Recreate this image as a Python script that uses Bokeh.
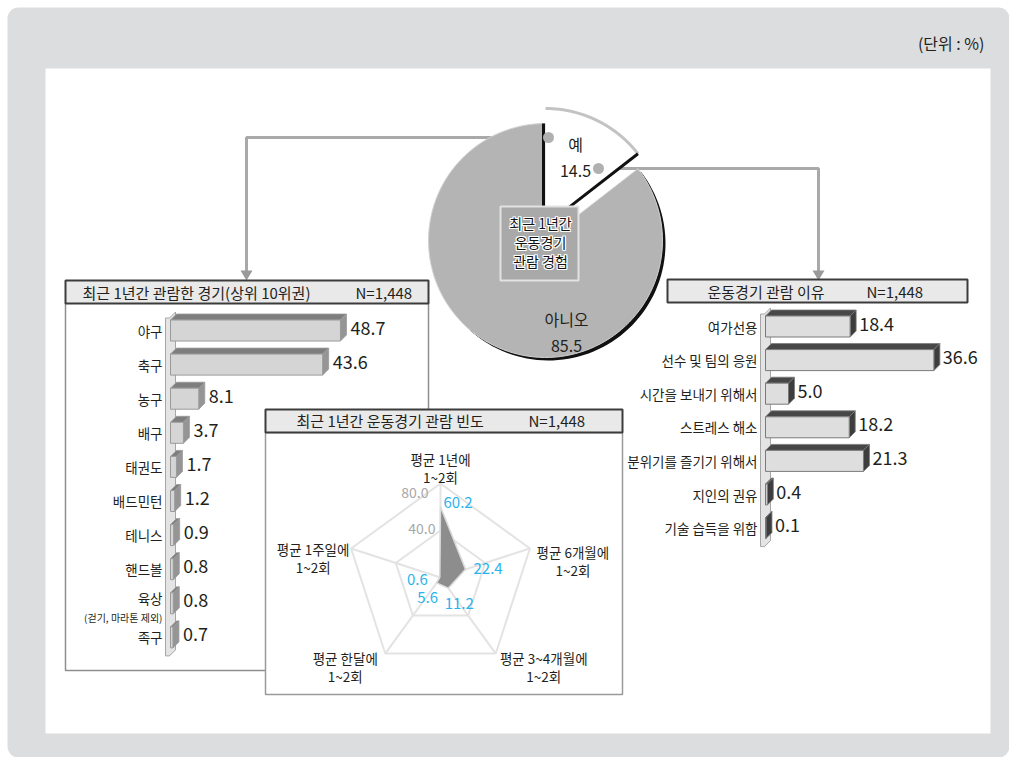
import math
from bokeh.plotting import figure
from bokeh.models import Range1d
from bokeh.core.properties import value
from bokeh.embed import file_html
from bokeh.resources import INLINE

# ---------------- data ----------------
unit_label = "(단위 : %)"
sample_n = "N=1,448"

pie_center_text = ["최근 1년간", "운동경기", "관람 경험"]
pie_labels = ["예", "아니오"]
pie_values = [14.5, 85.5]

sports_title = "최근 1년간 관람한 경기(상위 10위권)"
sports = ["야구", "축구", "농구", "배구", "태권도", "배드민턴", "테니스", "핸드볼", "육상", "족구"]
sports_values = [48.7, 43.6, 8.1, 3.7, 1.7, 1.2, 0.9, 0.8, 0.8, 0.7]
sports_note = "(걷기, 마라톤 제외)"   # note under 육상

reasons_title = "운동경기 관람 이유"
reasons = ["여가선용", "선수 및 팀의 응원", "시간을 보내기 위해서", "스트레스 해소",
           "분위기를 즐기기 위해서", "지인의 권유", "기술 습득을 위함"]
reason_values = [18.4, 36.6, 5.0, 18.2, 21.3, 0.4, 0.1]

freq_title = "최근 1년간 운동경기 관람 빈도"
freq_line1 = ["평균 1년에", "평균 6개월에", "평균 3~4개월에", "평균 한달에", "평균 1주일에"]
freq_line2 = ["1~2회", "1~2회", "1~2회", "1~2회", "1~2회"]
freq_values = [60.2, 22.4, 11.2, 5.6, 0.6]
radar_levels = [40.0, 80.0]

# ---------------- styling / layout ----------------
FONT = value("Noto Sans CJK KR")
TXT = "#231f20"
W, H = 1009, 757

p = figure(width=W, height=H, x_range=Range1d(0, W), y_range=Range1d(H, 0),
           output_backend="svg", toolbar_location=None, min_border=0,
           x_axis_type=None, y_axis_type=None)
p.grid.visible = False
p.outline_line_color = None
p.background_fill_color = "white"
p.border_fill_color = "white"

LAB = "13.5px"
TITLE = "15px"
VAL = "18px"


def text(x, y, t, size=LAB, align="left", baseline="middle", color=TXT, style="normal"):
    p.text(x=x, y=y, text=t, text_font=FONT, text_font_size=size, text_align=align,
           text_baseline=baseline, text_color=color, text_font_style=style)


# outer rounded gray frame
def rounded_rect(l, t, r, b, rad, n=8):
    xs, ys = [], []
    corners = [(r - rad, t + rad, -90, 0), (r - rad, b - rad, 0, 90),
               (l + rad, b - rad, 90, 180), (l + rad, t + rad, 180, 270)]
    for cx, cy, a0, a1 in corners:
        for j in range(n + 1):
            a = math.radians(a0 + (a1 - a0) * j / n)
            xs.append(cx + rad * math.cos(a))
            ys.append(cy + rad * math.sin(a))
    return xs, ys


fx, fy = rounded_rect(7, 7, 1009, 757, 11)
p.patch(fx, fy, fill_color="#dcdddf", line_color=None)
p.quad(left=45, right=990, top=68, bottom=733, fill_color="white", line_color=None)
text([984], [42], [unit_label], size="16px", align="right")

# ---------------- connectors ----------------
CON = "#a9a9a9"
p.line([548, 246, 246], [137, 137, 272], line_color=CON, line_width=3)
p.line([598, 818, 818], [168, 168, 272], line_color=CON, line_width=3)
p.patches([[240, 252, 246], [812, 824, 818]], [[270, 270, 280], [270, 270, 280]],
          fill_color="#9a9a9a", line_color=None)

# ---------------- pie ----------------
PCX, PCY, PR, EXPLODE = 545, 240, 117, 15
total = sum(pie_values)
fr = [v / total for v in pie_values]
cum = [0.0, fr[0], 1.0]


def arc_pts(cx, cy, r, f0, f1, n=120):
    xs, ys = [], []
    for j in range(n + 1):
        t = 2 * math.pi * (f0 + (f1 - f0) * j / n)
        xs.append(cx + r * math.sin(t))
        ys.append(cy - r * math.cos(t))
    return xs, ys


# "아니오" slice (main) with dark shadow
ax, ay = arc_pts(PCX, PCY, PR, cum[1], cum[2])
p.patch([PCX + 3] + [x + 3 for x in ax] + [PCX + 3], [PCY + 3] + [y + 3 for y in ay] + [PCY + 3],
        fill_color="#111111", line_color=None)
p.patch([PCX] + ax + [PCX], [PCY] + ay + [PCY], fill_color="#b4b4b4", line_color="#d2d2d2",
        line_width=1)
# "예" slice (exploded, white)
ex_cy = PCY - EXPLODE
bx, by = arc_pts(PCX, ex_cy, PR, cum[0], cum[1])
p.patch([PCX] + bx + [PCX], [ex_cy] + by + [ex_cy], fill_color="white", line_color=None)
p.line(bx, by, line_color="#c3c3c3", line_width=3)
# dark edges
p.line([PCX - 2, PCX - 2], [PCY - 3, PCY - PR], line_color="#111111", line_width=3)
t1 = 2 * math.pi * cum[1]
p.line([PCX + 0.25 * PR * math.sin(t1), PCX + PR * math.sin(t1)],
       [ex_cy - 0.25 * PR * math.cos(t1), ex_cy - PR * math.cos(t1)],
       line_color="#111111", line_width=3)
# connector dots
p.scatter([548, 598], [137, 168], size=11, fill_color="#b0b0b0", line_color=None)

# center box
p.quad(left=500, right=578, top=206, bottom=280, fill_color="#a9a9a9", line_color="#e2e2e2",
       line_width=2)
cy_lines = [222, 241, 260]
for dx, dy in [(-1, 0), (1, 0), (0, -1), (0, 1), (-1, -1), (1, 1), (-1, 1), (1, -1)]:
    text([540 + dx] * 3, [y + dy for y in cy_lines], pie_center_text, size="14px",
         align="center", color="white")
text([540] * 3, cy_lines, pie_center_text, size="14px", align="center", color="#111111")

# pie labels
text([575, 575], [143, 170], [pie_labels[0], "%.1f" % pie_values[0]], size="16px", align="center")
text([566, 566], [318, 345], [pie_labels[1], "%.1f" % pie_values[1]], size="16px", align="center")


# ---------------- 3D bar helper ----------------
def bars3d(x0, k, y0, step, vals, front, top, side, edge, bar_h=21, d=6):
    lefts, rights, tops, bottoms = [], [], [], []
    txs, tys, sxs, sys_ = [], [], [], []
    for i, v in enumerate(vals):
        c = y0 + i * step
        x1 = x0 + v * k
        t, b = c - bar_h / 2, c + bar_h / 2
        lefts.append(x0); rights.append(x1); tops.append(t); bottoms.append(b)
        txs.append([x0, x0 + d, x1 + d, x1]); tys.append([t, t - d, t - d, t])
        sxs.append([x1, x1 + d, x1 + d, x1]); sys_.append([t, t - d, b - d, b])
    # axis wall
    wt = y0 - bar_h / 2 - 4
    wb = y0 + (len(vals) - 1) * step + bar_h / 2 + 8
    p.patch([x0 - 5, x0 - 1, x0 + 5, x0 + 5, x0 - 1, x0 - 5],
            [wt + 2, wt + 2, wt - 4, wb - 6, wb, wb], fill_color="#e4e4e4",
            line_color="#a6a6a6", line_width=1)
    p.patches(txs, tys, fill_color=top, line_color=edge, line_width=0.8)
    p.patches(sxs, sys_, fill_color=side, line_color=edge, line_width=0.8)
    p.quad(left=lefts, right=rights, top=tops, bottom=bottoms, fill_color=front,
           line_color=edge, line_width=1)
    return [r + d for r in rights]


def title_box(l, t, r, b):
    p.quad(left=l, right=r, top=t, bottom=b, fill_color="#e9e9e9", line_color="#3c3c3c",
           line_width=2)


# ---------------- left panel: sports ----------------
L_X0, L_K, L_Y0, L_STEP = 170, 3.49, 330, 34.1
p.multi_line([[428, 428], [65, 65, 265]], [[303, 409], [303, 670, 670]],
             line_color="#8e8e8e", line_width=1.5)
title_box(65, 280, 428, 303)
text([82], [292], [sports_title], size=TITLE)
text([355], [292], [sample_n], size=TITLE)
l_rights = bars3d(L_X0, L_K, L_Y0, L_STEP, sports_values, "#d5d5d5", "#7e7e7e", "#959595",
                  "#9a9a9a")
ly = [L_Y0 + i * L_STEP for i in range(len(sports))]
lab_y = [y - 5 if s == "육상" else y for s, y in zip(sports, ly)]
text([162] * len(sports), lab_y, sports, align="right")
text([162], [ly[sports.index("육상")] + 14], [sports_note], size="10px", align="right")
text([r + 4 for r in l_rights], [y - 3 for y in ly], ["%.1f" % v for v in sports_values],
     size=VAL)

# ---------------- right panel: reasons ----------------
R_X0, R_K, R_Y0, R_STEP = 765, 4.6, 326, 33.6
title_box(667, 279, 967, 302)
text([707], [291], [reasons_title], size=TITLE)
text([866], [291], [sample_n], size=TITLE)
r_rights = bars3d(R_X0, R_K, R_Y0, R_STEP, reason_values, "#dedede", "#474747", "#3d3d3d",
                  "#7a7a7a")
ry = [R_Y0 + i * R_STEP for i in range(len(reasons))]
text([757] * len(reasons), ry, reasons, align="right")
text([r + 3 for r in r_rights], [y - 3 for y in ry], ["%.1f" % v for v in reason_values],
     size=VAL)

# ---------------- radar panel ----------------
p.quad(left=265, right=622, top=432, bottom=694, fill_color="white", line_color="#9a9a9a",
       line_width=1.5)
title_box(265, 409, 622, 432)
text([296], [420], [freq_title], size=TITLE)
text([528], [420], [sample_n], size=TITLE)

RCX, RCY, RMAX_PX, RMAX = 440, 577, 94, 80.0
n = len(freq_values)
angs = [2 * math.pi * i / n for i in range(n)]


def rpt(v, a):
    r = v / RMAX * RMAX_PX
    return RCX + r * math.sin(a), RCY - r * math.cos(a)


GRID = "#e3e3e3"
for lev in radar_levels:
    pts = [rpt(lev, a) for a in angs]
    p.line([q[0] for q in pts] + [pts[0][0]], [q[1] for q in pts] + [pts[0][1]],
           line_color=GRID, line_width=2)
outer = [rpt(radar_levels[-1], a) for a in angs]
p.multi_line([[RCX, q[0]] for q in outer], [[RCY, q[1]] for q in outer], line_color=GRID,
             line_width=2)

dp = [rpt(v, a) for v, a in zip(freq_values, angs)]
p.patch([q[0] for q in dp], [q[1] for q in dp], fill_color="#8d8d8d", line_color="#d9d9d9",
        line_width=1.5)

# level labels
lev_off = [(-5, -2), (-12, 9)]
text([RCX + o[0] for o in lev_off], [rpt(l, 0)[1] + o[1] for l, o in zip(radar_levels, lev_off)],
     ["%.1f" % l for l in radar_levels], size="14px", align="right", color="#a8a8a8")

# value labels
BLUE = "#2bb3ee"
v_off = [(3, -4, "left"), (8, -1, "left"), (11, 15, "center"), (-9, 15, "center"), (-12, 2, "right")]
for q, v, o in zip(dp, freq_values, v_off):
    text([q[0] + o[0]], [q[1] + o[1]], ["%.1f" % v], size="15px", align=o[2], color=BLUE)

# category labels
c_off = [(0, -25), (43, 4), (48, 4), (-40, 4), (-38, 1)]
for q, l1, l2, o in zip(outer, freq_line1, freq_line2, c_off):
    text([q[0] + o[0]], [q[1] + o[1]], [l1], size=LAB, align="center")
    text([q[0] + o[0]], [q[1] + o[1] + 18], [l2], size=LAB, align="center")

open("out.html", "w").write(file_html(p, INLINE))
